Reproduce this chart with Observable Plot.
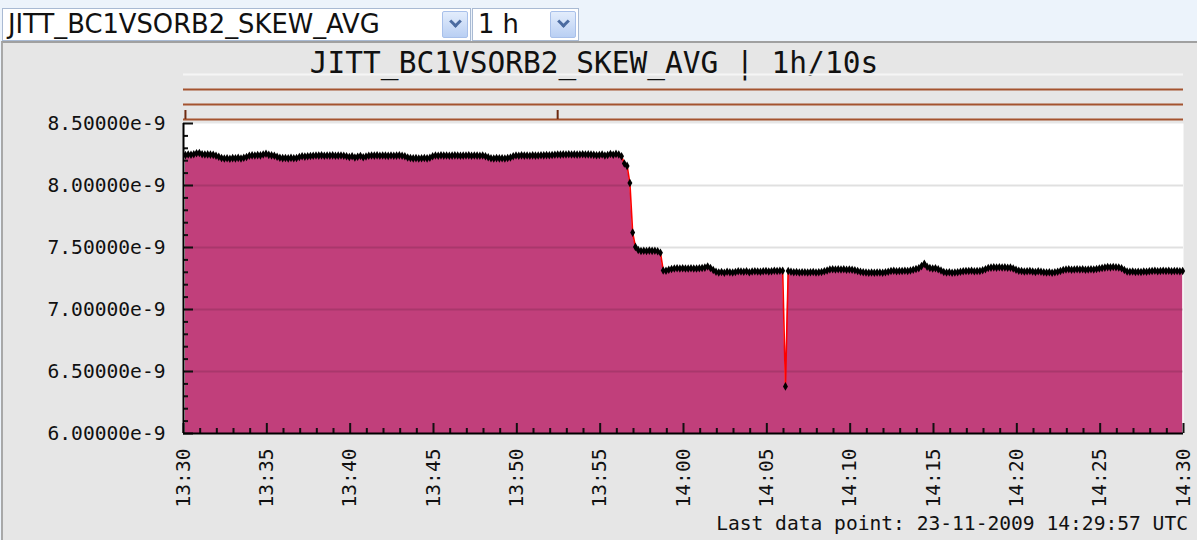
<!DOCTYPE html>
<html><head><meta charset="utf-8">
<script src="https://cdn.jsdelivr.net/npm/d3@7"></script>
<script src="https://cdn.jsdelivr.net/npm/@observablehq/plot@0.6"></script>
<style>
html,body{margin:0;padding:0;}
body{width:1197px;height:540px;background:#ECF3FB;position:relative;overflow:hidden;font-family:"DejaVu Sans",sans-serif;}
.sel{position:absolute;top:8px;height:33px;background:#fff;border:1px solid #A9BAD3;box-sizing:border-box;}
.sel .txt{position:absolute;left:5px;top:0;line-height:31px;font-size:25.8px;color:#111;white-space:nowrap;}
.sel .btn{position:absolute;right:2px;top:2px;width:26px;height:27px;background:linear-gradient(#E3EDFC,#B9CFF3);border:1px solid #A8C0EA;box-sizing:border-box;border-radius:2px;}
.sel .btn::after{content:"";position:absolute;left:8px;top:5px;width:6px;height:6px;border-right:3px solid #4B6BA0;border-bottom:3px solid #4B6BA0;transform:rotate(45deg);}
#panel{position:absolute;left:1px;top:41px;width:1196px;height:499px;background:#E6E6E6;border-left:2px solid #A8A8A8;border-top:2px solid #A0A0A0;box-sizing:border-box;}
#title{position:absolute;left:0;width:1188px;top:46px;text-align:center;font-family:"DejaVu Sans Mono",monospace;font-size:29.5px;line-height:34px;color:#111;white-space:pre;}
#status{position:absolute;left:0;top:64px;}
#chart{position:absolute;left:0;top:113px;}
#caption{position:absolute;right:9px;top:513px;font-family:"DejaVu Sans Mono",monospace;font-size:19.6px;line-height:22px;color:#111;white-space:pre;}
</style>
</head><body>
<div class="sel" style="left:2px;width:469px;"><span class="txt">JITT_BC1VSORB2_SKEW_AVG</span><span class="btn"></span></div>
<div class="sel" style="left:472px;width:107px;"><span class="txt">1 h</span><span class="btn"></span></div>
<div id="panel"></div>
<div id="title">JITT_BC1VSORB2_SKEW_AVG | 1h/10s</div>
<div id="status"></div>
<div id="chart"></div>
<div id="caption">Last data point: 23-11-2009 14:29:57 UTC</div>
<script>
// ---- data (values in units of 1e-9, one sample every 10 s starting 13:30:07 UTC) ----
const startTime = Date.UTC(2009, 10, 23, 13, 30, 7);
const sampleStepMs = 10000;
const xStart = new Date(Date.UTC(2009, 10, 23, 13, 30));
const xEnd = new Date(Date.UTC(2009, 10, 23, 14, 30));

const skewValues = [
  // 13:30 – 13:56 plateau
  8.245, 8.250, 8.248, 8.252, 8.260, 8.262, 8.252, 8.250, 8.251, 8.249,
  8.247, 8.240, 8.232, 8.222, 8.218, 8.220, 8.216, 8.221, 8.219, 8.223,
  8.218, 8.224, 8.230, 8.240, 8.243, 8.242, 8.245, 8.243, 8.250, 8.256,
  8.247, 8.243, 8.240, 8.232, 8.224, 8.221, 8.222, 8.219, 8.223, 8.220,
  8.222, 8.230, 8.236, 8.233, 8.236, 8.238, 8.240, 8.242, 8.241, 8.243,
  8.240, 8.242, 8.241, 8.243, 8.240, 8.241, 8.242, 8.240, 8.236, 8.230,
  8.236, 8.226, 8.232, 8.238, 8.228, 8.234, 8.240, 8.242, 8.241, 8.243,
  8.240, 8.242, 8.241, 8.239, 8.242, 8.240, 8.241, 8.243, 8.240, 8.236,
  8.226, 8.222, 8.219, 8.221, 8.218, 8.220, 8.222, 8.219, 8.224, 8.236,
  8.242, 8.240, 8.243, 8.241, 8.242, 8.240, 8.241, 8.243, 8.242, 8.240,
  8.241, 8.242, 8.243, 8.240, 8.242, 8.241, 8.240, 8.242, 8.236, 8.228,
  8.220, 8.218, 8.221, 8.219, 8.220, 8.218, 8.222, 8.226, 8.236, 8.242,
  8.240, 8.243, 8.241, 8.242, 8.240, 8.243, 8.241, 8.242, 8.244, 8.243,
  8.245, 8.244, 8.246, 8.248, 8.250, 8.249, 8.251, 8.250, 8.252, 8.250,
  8.251, 8.249, 8.250, 8.252, 8.250, 8.251, 8.249, 8.247, 8.244, 8.246,
  8.250, 8.242, 8.246, 8.254, 8.248, 8.255, 8.250,
  // drop and short 7.47 plateau
  8.236, 8.178, 8.158, 8.020, 7.620, 7.505, 7.480, 7.472, 7.474, 7.472,
  7.475, 7.473, 7.474, 7.470, 7.458,
  // 13:59 – 14:30 plateau
  7.315, 7.312, 7.320, 7.326, 7.330, 7.332, 7.330, 7.333,
  7.331, 7.330, 7.333, 7.331, 7.330, 7.332, 7.334, 7.338, 7.347, 7.335,
  7.318, 7.304, 7.298, 7.302, 7.297, 7.305, 7.300, 7.298, 7.303, 7.308,
  7.307, 7.305, 7.308, 7.300, 7.306, 7.309, 7.307, 7.305, 7.308, 7.310,
  7.306, 7.308, 7.312, 7.310, 7.313, 7.312, 6.380, 7.311, 7.305, 7.300,
  7.302, 7.298, 7.300, 7.301, 7.299, 7.300, 7.302, 7.298, 7.300, 7.303,
  7.308, 7.315, 7.322, 7.324, 7.323, 7.325, 7.322, 7.324, 7.321, 7.323,
  7.320, 7.316, 7.310, 7.304, 7.300, 7.298, 7.296, 7.298, 7.297, 7.299,
  7.298, 7.296, 7.300, 7.305, 7.310, 7.312, 7.309, 7.311, 7.310, 7.312,
  7.310, 7.314, 7.320, 7.326, 7.332, 7.350, 7.368, 7.345, 7.334, 7.330,
  7.332, 7.325, 7.315, 7.303, 7.298, 7.300, 7.297, 7.299, 7.301, 7.304,
  7.308, 7.311, 7.310, 7.312, 7.309, 7.311, 7.310, 7.316, 7.325, 7.334,
  7.338, 7.340, 7.338, 7.341, 7.339, 7.340, 7.336, 7.338, 7.330, 7.320,
  7.312, 7.310, 7.306, 7.309, 7.311, 7.307, 7.302, 7.308, 7.305, 7.300,
  7.298, 7.300, 7.297, 7.301, 7.304, 7.310, 7.318, 7.322, 7.324, 7.321,
  7.323, 7.325, 7.322, 7.324, 7.320, 7.323, 7.325, 7.322, 7.326, 7.330,
  7.334, 7.338, 7.342, 7.340, 7.343, 7.341, 7.339, 7.332, 7.318, 7.306,
  7.304, 7.306, 7.302, 7.305, 7.303, 7.307, 7.304, 7.308, 7.310, 7.312,
  7.309, 7.311, 7.313, 7.310, 7.312, 7.309, 7.311, 7.310, 7.308, 7.310
];

const yDomain = [6.0, 8.5];
const yMajorTicks = [6.0, 6.5, 7.0, 7.5, 8.0, 8.5];
const yGridTicks = [6.5, 7.0, 7.5, 8.0];
const xMajorTickMinutes = [0, 5, 10, 15, 20, 25, 30, 35, 40, 45, 50, 55, 60];

// status strip: 4 rows (top one empty), with two event marks on the bottom row
const statusRows = [1, 2, 3, 4];
const statusRowColors = ["#F5F5F5", "#A4532F", "#A4532F", "#A4532F"];
const statusEventTimes = [Date.UTC(2009, 10, 23, 13, 30, 7), Date.UTC(2009, 10, 23, 13, 52, 27)];
const statusEventRow = 4;

// ---- build tables ----
const data = skewValues.map((v, i) => ({t: new Date(startTime + i * sampleStepMs), v}));
const xMajorTicks = xMajorTickMinutes.map(m => new Date(+xStart + m * 60000));
const xMinorTicks = d3.range(0, 61).filter(m => m % 5 !== 0).map(m => new Date(+xStart + m * 60000));
const yMinorTicks = d3.range(60, 86).map(k => k / 10).filter(v => Math.round(v * 10) % 5 !== 0);

const AREA = "#C13F7B";
const font = {background: "transparent", fontFamily: "'DejaVu Sans Mono', monospace", fontSize: "19.6px", color: "#111"};

const chart = Plot.plot({
  width: 1197, height: 400,
  marginLeft: 183, marginRight: 14, marginTop: 10, marginBottom: 80,
  style: font,
  x: {type: "utc", domain: [xStart, xEnd], label: null},
  y: {domain: yDomain, label: null},
  marks: [
    Plot.frame({fill: "white", stroke: null}),
    Plot.areaY(data, {x: "t", y1: yDomain[0], y2: "v", fill: AREA}),
    Plot.gridY(yGridTicks, {stroke: "#000", strokeOpacity: 0.12, strokeWidth: 2}),
    Plot.line(data, {x: "t", y: "v", stroke: "#FF0000", strokeWidth: 1.6}),
    Plot.dot(data, {x: "t", y: "v", symbol: "diamond", r: 2.6, fill: "#000"}),
    Plot.axisY(yMajorTicks, {tickSize: -10, fill: "none", label: null, strokeWidth: 2}),
    Plot.axisY(yMinorTicks, {tickSize: -5, fill: "none", label: null, strokeWidth: 2}),
    Plot.axisY(yMajorTicks, {tickSize: 0, tickPadding: 18, tickFormat: d => d.toFixed(5) + "e-9", label: null}),
    Plot.axisX(xMajorTicks, {tickSize: -10, fill: "none", label: null, strokeWidth: 2}),
    Plot.axisX(xMinorTicks, {tickSize: -5, fill: "none", label: null, strokeWidth: 2}),
    Plot.axisX(xMajorTicks, {tickSize: 0, tickPadding: 15, tickRotate: -90, tickFormat: d3.utcFormat("%H:%M"), label: null}),
    Plot.ruleX([xStart], {stroke: "#000", strokeWidth: 2}),
    Plot.ruleY([yDomain[0]], {stroke: "#000", strokeWidth: 2})
  ]
});
document.getElementById("chart").append(chart);

const statusData = statusRows.map((r, i) => ({row: r, color: statusRowColors[i]}));
const statusEvents = statusEventTimes.map(t => ({t: new Date(t), row: statusEventRow}));
const status = Plot.plot({
  width: 1197, height: 60,
  marginLeft: 183, marginRight: 14, marginTop: 10, marginBottom: 5,
  style: font,
  x: {type: "utc", domain: [xStart, xEnd], axis: null},
  y: {domain: [1, 4], reverse: true, axis: null},
  marks: [
    Plot.ruleY(statusData, {y: "row", x1: xStart, x2: xEnd, stroke: "color", strokeWidth: 2}),
    Plot.ruleX(statusEvents, {x: "t", y1: "row", y2: d => d.row - 0.6, stroke: "#6E2A10", strokeWidth: 2})
  ]
});
document.getElementById("status").append(status);
</script>
</body></html>
